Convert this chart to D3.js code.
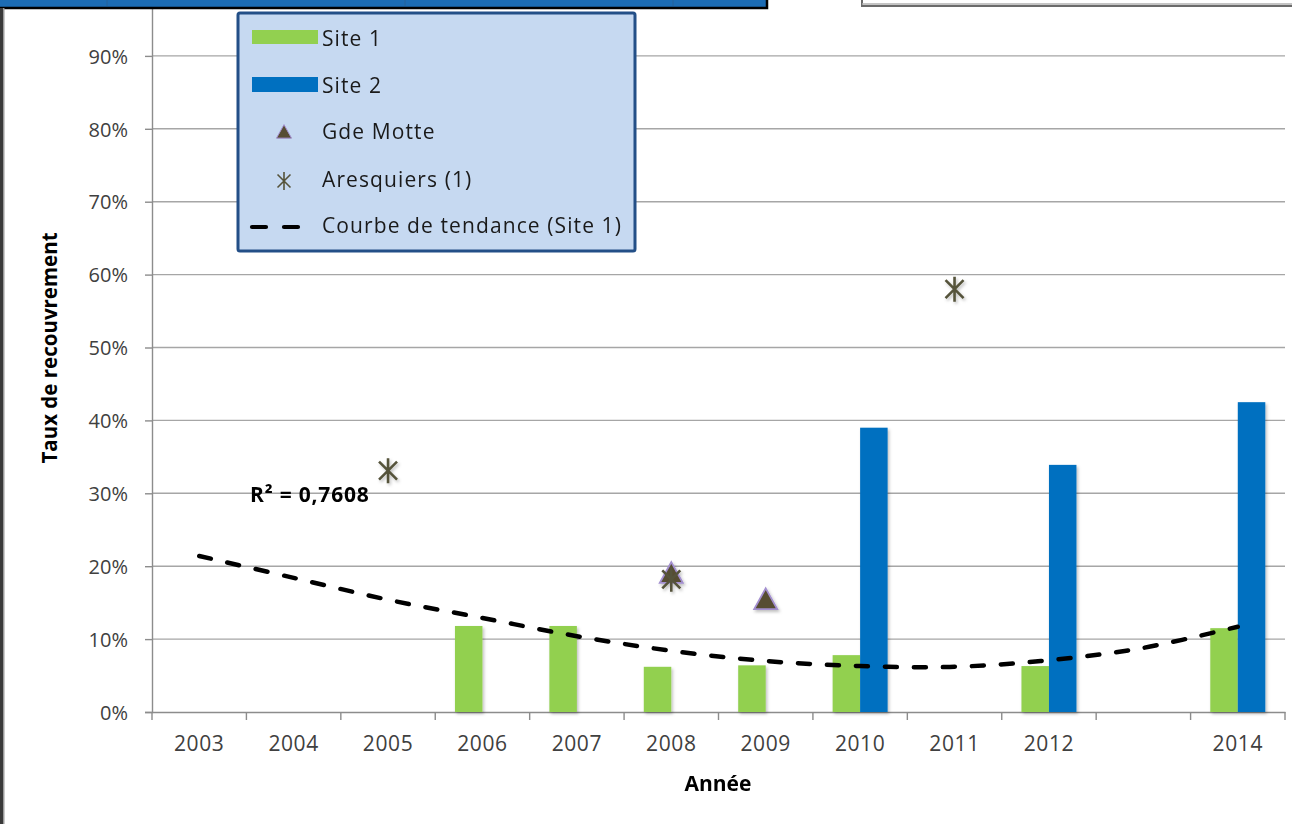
<!DOCTYPE html>
<html>
<head>
<meta charset="utf-8">
<script src="https://cdn.jsdelivr.net/npm/d3@7"></script>
<style>
  html, body { margin: 0; padding: 0; background: #fff; }
  svg { display: block; font-family: "Open Sans", "Noto Sans", sans-serif; }
</style>
</head>
<body>
<svg id="chart" width="1292" height="824"></svg>
<script>
// ---- Data ----
const years = ["2003","2004","2005","2006","2007","2008","2009","2010","2011","2012","2013","2014"];
const yearLabels = ["2003","2004","2005","2006","2007","2008","2009","2010","2011","2012","","2014"];
const site1 = [null, null, null, 0.118, 0.118, 0.062, 0.064, 0.078, null, 0.063, null, 0.115];
const site2 = [null, null, null, null, null, null, null, 0.390, null, 0.339, null, 0.425];
const gdeMotte = [null, null, null, null, null, 0.188, 0.152, null, null, null, null, null];
const aresquiers = [null, null, 0.331, null, null, 0.182, null, null, 0.580, null, null, null];
const trendSite1 = [0.214, 0.184, 0.154, 0.129, 0.104, 0.084, 0.070, 0.063, 0.062, 0.071, 0.088, 0.117];
const yTicks = [0, 0.1, 0.2, 0.3, 0.4, 0.5, 0.6, 0.7, 0.8, 0.9];
const seriesNames = ["Site 1", "Site 2"];
const legendLabels = ["Site 1", "Site 2", "Gde Motte", "Aresquiers (1)", "Courbe de tendance (Site 1)"];
const r2Label = "R² = 0,7608";

(function () {
const colors = { s1: "#92d050", s2: "#0070c0", marker: "#574d33", markerStroke: "#a38fcf", star: "#55533a" };

const svg = d3.select("#chart");
const pLeft = 152, pRight = 1285, pBottom = 712, pTop = -17;

const defs = svg.append("defs");
const f = defs.append("filter").attr("id", "sh").attr("x", "-30%").attr("y", "-30%").attr("width", "160%").attr("height", "160%");
f.append("feDropShadow").attr("dx", 1.5).attr("dy", 2).attr("stdDeviation", 1.8).attr("flood-color", "#000").attr("flood-opacity", 0.25);

// Scales
const x0 = d3.scaleBand().domain(years).range([pLeft, pRight]).paddingInner(0).paddingOuter(0);
const bw = x0.bandwidth();
const groupW = 55;
const x1 = d3.scaleBand().domain(seriesNames).range([(bw - groupW) / 2, (bw + groupW) / 2]);
const y = d3.scaleLinear().domain([0, 1]).range([pBottom, pTop]);
const cx = yr => x0(yr) + bw / 2;

// Gridlines
svg.append("g").selectAll("line").data(yTicks.slice(1)).join("line")
  .attr("x1", pLeft).attr("x2", pRight)
  .attr("y1", d => y(d)).attr("y2", d => y(d))
  .attr("stroke", "#a6a6a6").attr("stroke-width", 1.4);

// Y axis
const yAxis = svg.append("g").attr("transform", `translate(${pLeft},0)`)
  .call(d3.axisLeft(y).tickValues(yTicks).tickFormat(d3.format(".0%")).tickSize(7).tickPadding(17));
yAxis.select(".domain").attr("stroke", "#8c8c8c").attr("stroke-width", 1.4);
yAxis.selectAll(".tick line").attr("stroke", "#8c8c8c").attr("stroke-width", 1.4);
yAxis.selectAll(".tick text").attr("font-size", 20).attr("fill", "#404040").attr("font-family", "Open Sans").attr("dy", "0.36em");

// X axis
const xAxis = svg.append("g").attr("transform", `translate(0,${pBottom})`)
  .call(d3.axisBottom(x0).tickFormat((d, i) => yearLabels[i]).tickSize(0).tickPadding(24));
xAxis.select(".domain").attr("stroke", "#8c8c8c").attr("stroke-width", 1.4);
xAxis.selectAll(".tick text").attr("font-size", 21).attr("letter-spacing", "0.6px").attr("fill", "#404040").attr("font-family", "Open Sans");
// boundary tick marks
const bounds = years.map(d => x0(d)).concat([pRight]);
svg.append("g").selectAll("line").data(bounds).join("line")
  .attr("x1", d => d).attr("x2", d => d).attr("y1", pBottom).attr("y2", pBottom + 8)
  .attr("stroke", "#8c8c8c").attr("stroke-width", 1.4);

// Bars
const barData = [];
years.forEach((yr, i) => {
  if (site1[i] != null) barData.push({ yr, s: "Site 1", v: site1[i], c: colors.s1 });
  if (site2[i] != null) barData.push({ yr, s: "Site 2", v: site2[i], c: colors.s2 });
});
svg.append("g").attr("filter", "url(#sh)").selectAll("rect").data(barData).join("rect")
  .attr("x", d => x0(d.yr) + x1(d.s))
  .attr("width", x1.bandwidth())
  .attr("y", d => y(d.v))
  .attr("height", d => y(0) - y(d.v))
  .attr("fill", d => d.c);

// Trend line
const trendLine = d3.line().x((d, i) => cx(years[i])).y(d => y(d)).curve(d3.curveCatmullRom.alpha(0.5));
svg.append("path").datum(trendSite1).attr("d", trendLine)
  .attr("fill", "none").attr("stroke", "#000").attr("stroke-width", 4.5)
  .attr("stroke-dasharray", "12,17").attr("stroke-linecap", "round");

// Markers
function starPath(r) {
  const d = r * 0.72;
  return `M${-d},${-d}L${d},${d}M${-d},${d}L${d},${-d}M0,${-r}L0,${r}`;
}
function triPath(s) {
  const h = s * 0.9;
  return `M0,${-h * 0.62}L${s / 2},${h * 0.38}L${-s / 2},${h * 0.38}Z`;
}
const mk = svg.append("g").attr("filter", "url(#sh)");
mk.selectAll("path.tri").data(years.map((yr, i) => ({ yr, v: gdeMotte[i] })).filter(d => d.v != null)).join("path")
  .attr("class", "tri")
  .attr("transform", d => `translate(${cx(d.yr)},${y(d.v)})`)
  .attr("d", triPath(23))
  .attr("fill", colors.marker).attr("stroke", colors.markerStroke).attr("stroke-width", 1.8);
mk.selectAll("path.star").data(years.map((yr, i) => ({ yr, v: aresquiers[i] })).filter(d => d.v != null)).join("path")
  .attr("class", "star")
  .attr("transform", d => `translate(${cx(d.yr)},${y(d.v)})`)
  .attr("d", starPath(12.5))
  .attr("fill", "none").attr("stroke", colors.star).attr("stroke-width", 2.6);

// R² label
svg.append("text").attr("x", 250).attr("y", 502).text(r2Label)
  .attr("font-size", 21).attr("letter-spacing", "0.8px").attr("font-weight", "bold").attr("fill", "#000");

// Axis titles
svg.append("text").attr("transform", "translate(57,348) rotate(-90)").attr("text-anchor", "middle")
  .text("Taux de recouvrement").attr("font-size", 20.5).attr("font-weight", "bold").attr("fill", "#000");
svg.append("text").attr("x", 718).attr("y", 791).attr("text-anchor", "middle")
  .text("Année").attr("font-size", 21).attr("font-weight", "bold").attr("fill", "#000");

// Page decorations (cropped window chrome)
svg.append("rect").attr("x", -2).attr("y", -6).attr("width", 769).attr("height", 14)
  .attr("fill", "#1c6cb4").attr("stroke", "#000").attr("stroke-width", 2.5);
[107, 405, 673].forEach(xx => svg.append("line").attr("x1", xx).attr("x2", xx).attr("y1", 0).attr("y2", 6).attr("stroke", "#2a5f95").attr("stroke-width", 0.8));
svg.append("rect").attr("x", 862).attr("y", -10).attr("width", 440).attr("height", 16)
  .attr("fill", "#fff").attr("stroke", "#6b6b6b").attr("stroke-width", 2);
svg.append("line").attr("x1", 862).attr("x2", 1292).attr("y1", 4).attr("y2", 4).attr("stroke", "#b0b0b0").attr("stroke-width", 1.5);
svg.append("rect").attr("x", 0).attr("y", 8).attr("width", 3).attr("height", 816).attr("fill", "#3a3a3a");
svg.append("rect").attr("x", 3).attr("y", 8).attr("width", 1.5).attr("height", 816).attr("fill", "#9a9a9a");

// Legend
const lg = svg.append("g");
lg.append("rect").attr("x", 238).attr("y", 13).attr("width", 397).attr("height", 238).attr("rx", 2)
  .attr("fill", "#c6d9f1").attr("stroke", "#234f87").attr("stroke-width", 3);
const baselines = [46, 93, 139, 187, 233];
lg.selectAll("text").data(legendLabels).join("text")
  .attr("x", 322).attr("y", (d, i) => baselines[i]).text(d => d)
  .attr("font-size", 21).attr("letter-spacing", "1.1px").attr("fill", "#1a1a1a").attr("font-family", "Open Sans");
lg.append("rect").attr("x", 252).attr("y", 30).attr("width", 66).attr("height", 14).attr("fill", colors.s1);
lg.append("rect").attr("x", 252).attr("y", 77).attr("width", 66).attr("height", 15).attr("fill", colors.s2);
lg.append("path").attr("transform", "translate(284,133)").attr("d", triPath(15))
  .attr("fill", colors.marker).attr("stroke", colors.markerStroke).attr("stroke-width", 1);
lg.append("path").attr("transform", "translate(284,181)").attr("d", starPath(9))
  .attr("fill", "none").attr("stroke", colors.star).attr("stroke-width", 1.6);
lg.append("line").attr("x1", 252).attr("x2", 302).attr("y1", 227).attr("y2", 227)
  .attr("stroke", "#000").attr("stroke-width", 4.2).attr("stroke-dasharray", "14,18").attr("stroke-linecap", "round");
})();
</script>
</body>
</html>
